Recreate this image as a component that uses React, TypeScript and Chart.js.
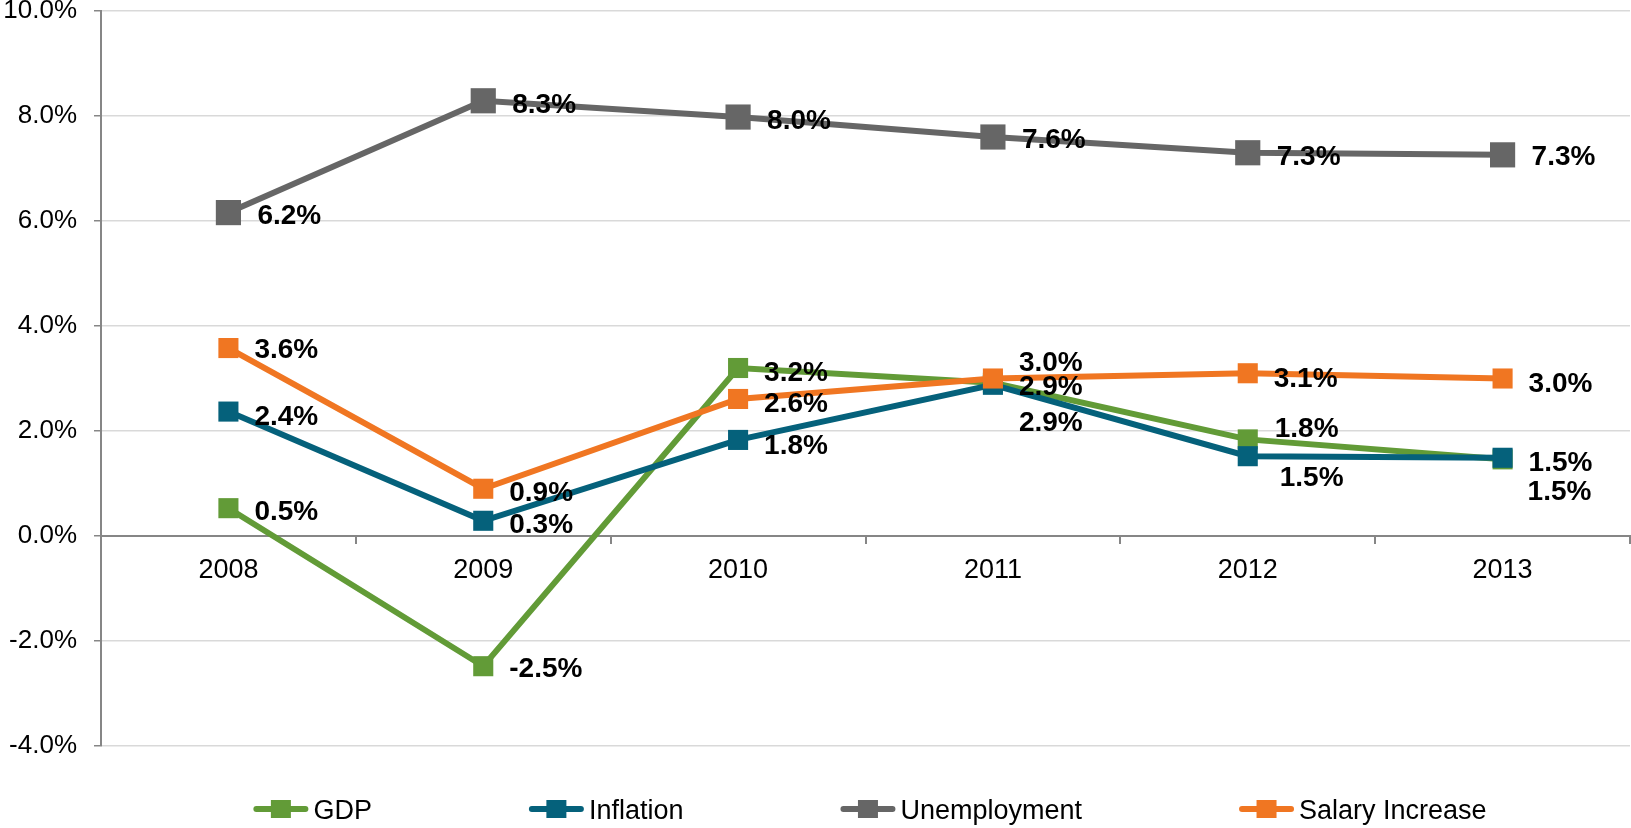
import React, { useEffect, useRef } from "react";
import { Chart, registerables } from "chart.js";

Chart.register(...registerables);

// ---- data ----
const years = ["2008", "2009", "2010", "2011", "2012", "2013"];
const gdp = [0.53, -2.48, 3.2, 2.92, 1.84, 1.46];
const inflation = [2.37, 0.29, 1.83, 2.88, 1.52, 1.49];
const unemployment = [6.16, 8.29, 7.98, 7.6, 7.3, 7.26];
const salaryIncrease = [3.58, 0.9, 2.61, 3.0, 3.1, 3.0];
const yTickValues = [-4, -2, 0, 2, 4, 6, 8, 10];
const seriesNames = ["GDP", "Inflation", "Unemployment", "Salary Increase"];

// ---- styles ----
const COLORS = ["#629B37", "#05617B", "#666666", "#F07622"];
const FONT = "'Liberation Sans', Arial, Helvetica, sans-serif";
const FS_Y = 26;
const FS_X = 27;
const FS_LEGEND = 27;
const FS_LABEL = 28;
// label offsets (dx from point to text left edge, dy of text centre) per series/point
const LABEL_OFFSETS: [number, number][][] = [
  [[26, 2], [26, 1], [26, 3], [26, 2], [27, -12], [25, 31]],
  [[26, 3], [26, 2], [26, 4], [26, 36], [32, 20], [26, 3]],
  [[29, 1], [29, 2], [29, 2], [29, 1], [29, 2], [29, 0]],
  [[26, 0], [26, 2], [26, 3], [26, -18], [26, 4], [26, 3]],
];
const POINT_RADIUS = [14.2, 14.2, 17.8, 14.2];

const dataLabelPlugin = {
  id: "dataLabels",
  afterDatasetsDraw(chart: any) {
    const ctx = chart.ctx;
    ctx.save();
    ctx.font = `bold ${FS_LABEL}px ${FONT}`;
    ctx.fillStyle = "#000000";
    ctx.textAlign = "left";
    ctx.textBaseline = "alphabetic";
    const capHalf = (FS_LABEL * 0.716) / 2;
    chart.data.datasets.forEach((ds: any, di: number) => {
      const meta = chart.getDatasetMeta(di);
      meta.data.forEach((pt: any, i: number) => {
        const v = ds.data[i] as number;
        const [dx, dy] = LABEL_OFFSETS[di][i];
        ctx.fillText(v.toFixed(1) + "%", pt.x + dx, pt.y + dy + capHalf);
      });
    });
    ctx.restore();
  },
};

const legendPlugin = {
  id: "customLegend",
  afterDraw(chart: any) {
    const ctx = chart.ctx;
    ctx.save();
    ctx.font = `${FS_LEGEND}px ${FONT}`;
    const symW = 55;
    const textGap = 5;
    const itemGap = 157;
    const widths = chart.data.datasets.map(
      (ds: any) => symW + textGap + ctx.measureText(ds.label).width
    );
    const total =
      widths.reduce((a: number, b: number) => a + b, 0) + itemGap * (widths.length - 1);
    const centerX = 870;
    const y = 809;
    let x = centerX - total / 2;
    chart.data.datasets.forEach((ds: any, i: number) => {
      ctx.strokeStyle = ds.borderColor;
      ctx.lineWidth = 6;
      ctx.lineCap = "round";
      ctx.beginPath();
      ctx.moveTo(x + 3, y);
      ctx.lineTo(x + symW - 3, y);
      ctx.stroke();
      ctx.fillStyle = ds.borderColor;
      ctx.fillRect(x + symW / 2 - 10, y - 9, 20, 18);
      ctx.fillStyle = "#000000";
      ctx.textBaseline = "alphabetic";
      ctx.textAlign = "left";
      ctx.fillText(ds.label, x + symW + textGap, y + (FS_LEGEND * 0.716) / 2);
      x += widths[i] + itemGap;
    });
    ctx.restore();
  },
};

export default function App() {
  const canvasRef = useRef<HTMLCanvasElement | null>(null);

  useEffect(() => {
    if (!canvasRef.current) return;
    const series = [gdp, inflation, unemployment, salaryIncrease];
    const chart = new Chart(canvasRef.current, {
      type: "line",
      data: {
        labels: years,
        datasets: series.map((d, i) => ({
          label: seriesNames[i],
          data: d,
          borderColor: COLORS[i],
          backgroundColor: COLORS[i],
          borderWidth: 6,
          pointStyle: "rect",
          pointRadius: POINT_RADIUS[i],
          pointHoverRadius: POINT_RADIUS[i],
          pointBorderWidth: 0,
          pointBackgroundColor: COLORS[i],
          tension: 0,
          fill: false,
          clip: false,
          order: 4 - i,
        })),
      },
      options: {
        responsive: false,
        animation: false,
        layout: { autoPadding: false, padding: { top: 11, bottom: 82, left: 0, right: 1 } },
        plugins: {
          legend: { display: false },
          tooltip: { enabled: false },
        },
        scales: {
          x: {
            type: "category",
            axis: "x",
            position: { y: 0 } as any,
            offset: true,
            afterFit: (s: any) => {
              s.paddingTop = 0;
              s.paddingBottom = 0;
              s.paddingLeft = 0;
              s.paddingRight = 0;
            },
            grid: {
              display: true,
              offset: true,
              drawOnChartArea: false,
              drawTicks: true,
              tickLength: 7,
              tickColor: "#868686",
              lineWidth: 2,
            },
            border: { display: true, color: "#868686", width: 2 },
            ticks: {
              color: "#000000",
              font: { family: FONT, size: FS_X },
              padding: 11,
              maxRotation: 0,
            },
          },
          y: {
            type: "linear",
            position: "left",
            min: -4,
            max: 10,
            afterBuildTicks: (s: any) => {
              s.ticks = yTickValues.map((v) => ({ value: v }));
            },
            afterFit: (s: any) => {
              s.width = 101;
              s.paddingTop = 0;
              s.paddingBottom = 0;
            },
            grid: {
              color: (c: any) => (c.tick && c.tick.value === 0 ? "#868686" : "#D9D9D9"),
              lineWidth: 1.5,
              drawTicks: true,
              tickLength: 7,
              tickColor: "#868686",
            },
            border: { display: true, color: "#868686", width: 2 },
            ticks: {
              color: "#000000",
              font: { family: FONT, size: FS_Y },
              padding: 17,
              callback: (v: any) => Number(v).toFixed(1) + "%",
            },
          },
        },
      },
      plugins: [dataLabelPlugin, legendPlugin],
    });
    return () => chart.destroy();
  }, []);

  return (
    <div style={{ position: "absolute", left: 0, top: 0, width: 1631, height: 828, background: "#fff" }}>
      <canvas ref={canvasRef} width={1631} height={828} style={{ display: "block" }} />
    </div>
  );
}
